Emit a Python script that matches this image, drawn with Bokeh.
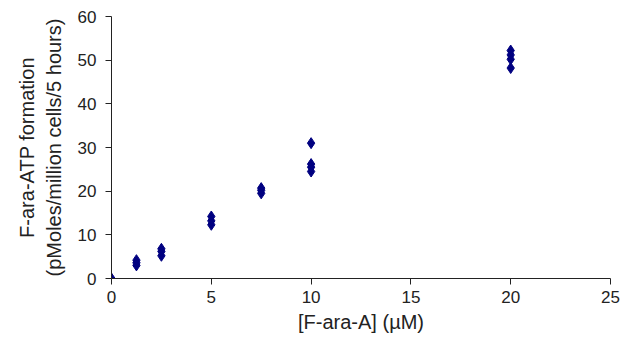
from bokeh.plotting import figure
from bokeh.embed import file_html
from bokeh.resources import INLINE
from bokeh.models import Range1d, FixedTicker

conc = [0, 1.25, 1.25, 1.25, 2.5, 2.5, 2.5, 5, 5, 5, 7.5, 7.5, 7.5,
        10, 10, 10, 10, 20, 20, 20, 20]
atp = [0, 3.0, 3.6, 4.2, 5.2, 6.2, 6.8, 12.3, 13.2, 14.2, 19.5, 20.2, 20.7,
       24.5, 25.5, 26.2, 31.0, 48.2, 50.2, 51.2, 52.2]

x_ticks = [0, 5, 10, 15, 20, 25]
y_ticks = [0, 10, 20, 30, 40, 50, 60]

p = figure(width=623, height=340, output_backend="svg", toolbar_location=None,
           x_range=Range1d(0, 25), y_range=Range1d(0, 60),
           min_border_left=111, min_border_right=13, min_border_top=16,
           min_border_bottom=62)
p.outline_line_color = None
p.xgrid.visible = False
p.ygrid.visible = False

p.scatter(conc, atp, marker="diamond", size=11, fill_color="#000080",
          line_color="#000080")

font = "Liberation Sans"
for ax in (p.xaxis, p.yaxis):
    ax.axis_line_color = "#222222"
    ax.major_tick_line_color = "#222222"
    ax.minor_tick_line_color = None
    ax.major_tick_out = 6
    ax.major_tick_in = 0
    ax.major_label_text_font = font
    ax.major_label_text_font_size = "17px"
    ax.major_label_text_color = "#222222"
    ax.axis_label_text_font = font
    ax.axis_label_text_font_size = "20px"
    ax.axis_label_text_font_style = "normal"
    ax.axis_label_text_color = "#222222"

p.xaxis.ticker = FixedTicker(ticks=x_ticks)
p.yaxis.ticker = FixedTicker(ticks=y_ticks)
p.xaxis.axis_label = "[F-ara-A] (\u00b5M)"
p.yaxis.axis_label = "F-ara-ATP formation\n(pMoles/million cells/5 hours)"
p.xaxis.major_label_standoff = 6
p.yaxis.major_label_standoff = 9
p.xaxis.axis_label_standoff = 5
p.yaxis.axis_label_standoff = 10

open("out.html", "w").write(file_html(p, INLINE))
